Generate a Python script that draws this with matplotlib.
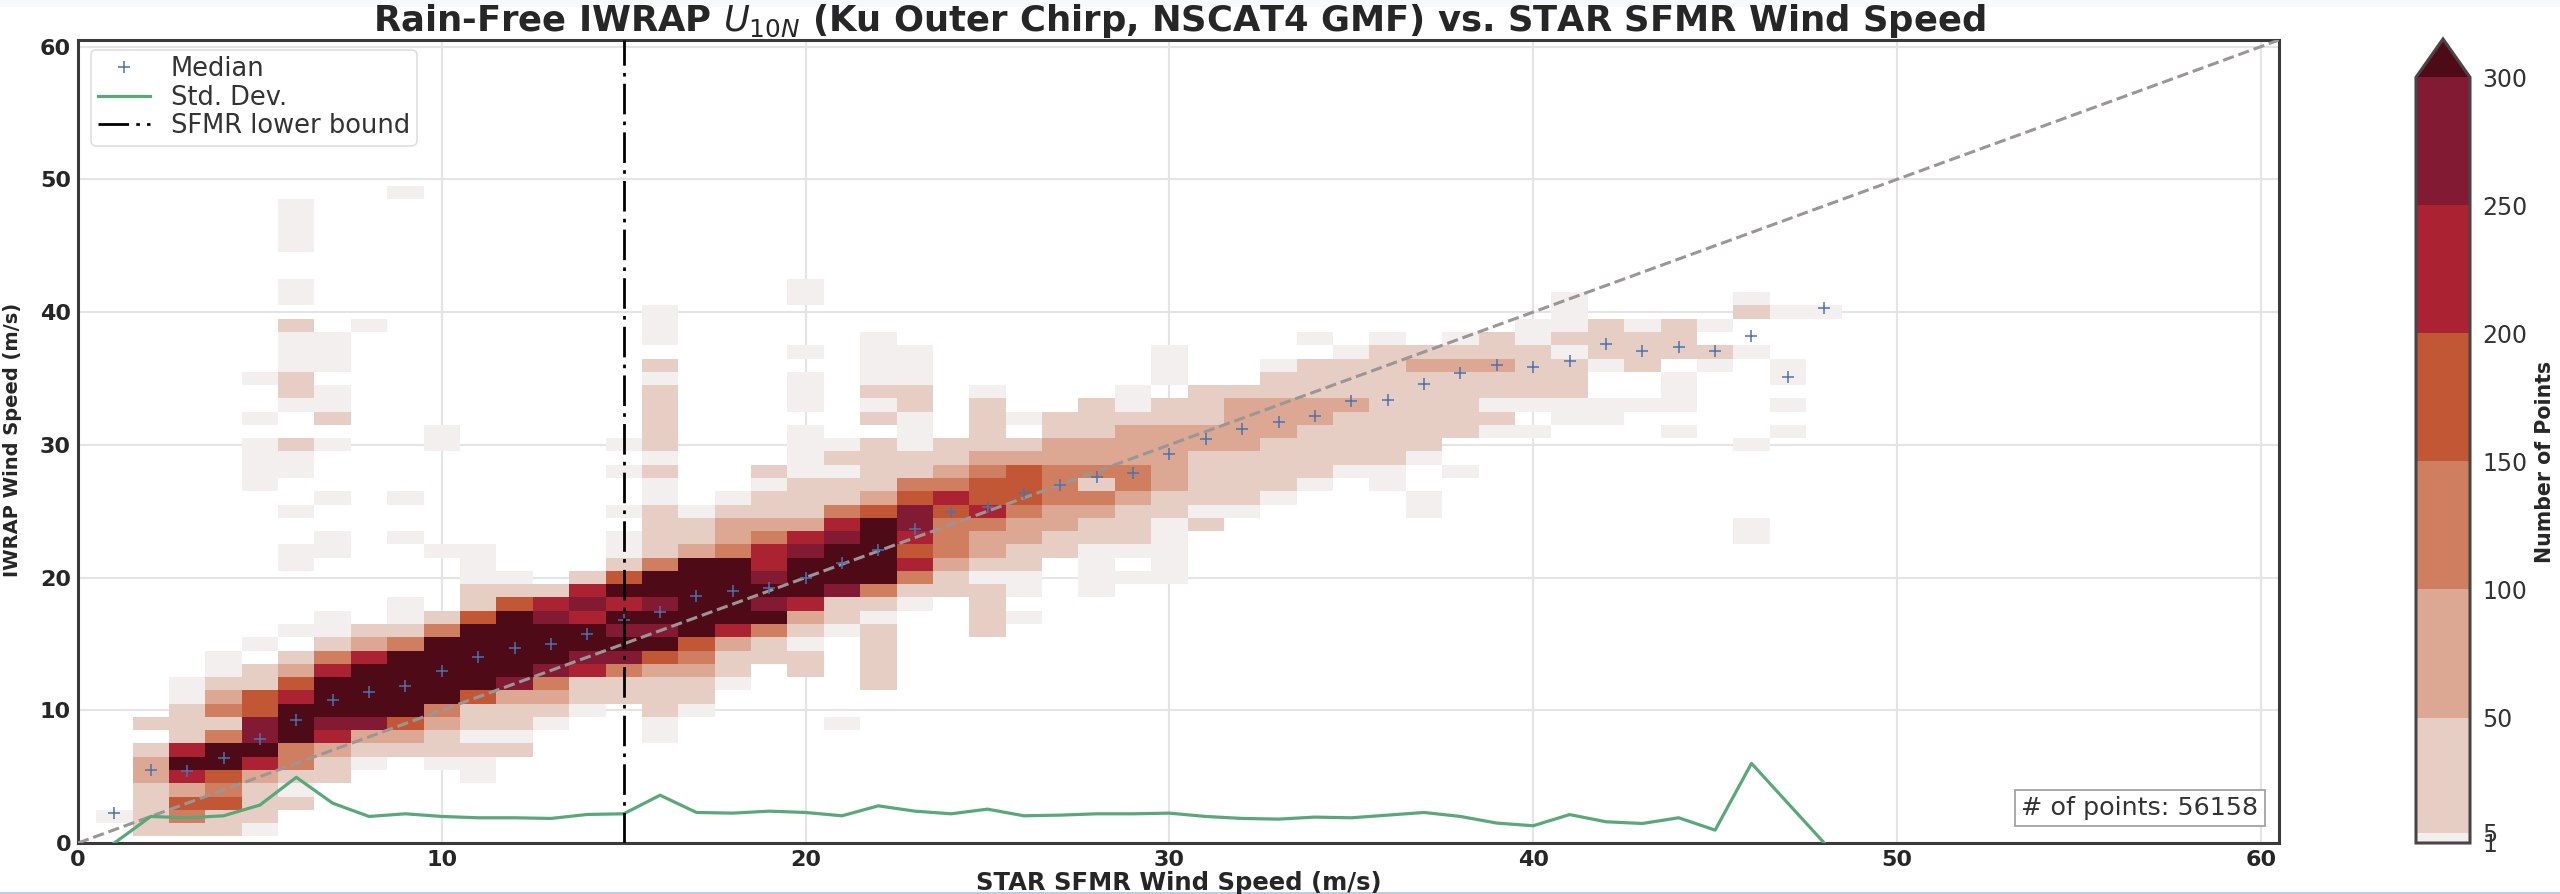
import numpy as np
import matplotlib
matplotlib.use('Agg')
import matplotlib.pyplot as plt
from matplotlib.colors import BoundaryNorm, ListedColormap
from matplotlib.patches import Rectangle

# bin counts were read from the picture as colour classes, so each class stands for a typical count
level_counts = {'a': 3, 'b': 25, 'c': 75, 'd': 125, 'e': 175, 'f': 225, 'g': 275, 'h': 350}

# SFMR bin -> list of (first IWRAP bin, classes going upward)
columns = {
    1: [(2, 'a')],
    2: [(1, 'bbbbccb'), (9, 'b')],
    3: [(1, 'bdecfhfbbbaa')],
    4: [(1, 'bbedehhdbdcbaa')],
    5: [(1, 'abbbcfhggeebb'), (15, 'a'), (27, 'aaaa'), (32, 'a'), (35, 'a')],
    6: [(3, 'babddhhhfecb'), (16, 'a'), (21, 'aa'), (25, 'a'), (28, 'aab'), (33, 'abbaaab'), (41, 'aa'), (45, 'aaaa')],
    7: [(5, 'bbcfghhhfdbaa'), (22, 'aa'), (26, 'a'), (30, 'a'), (32, 'baa'), (36, 'aaa')],
    8: [(6, 'abcghhhhfcb'), (39, 'a')],
    9: [(7, 'bcehhhhhdbaa'), (23, 'a'), (26, 'a'), (49, 'a')],
    10: [(6, 'abbcdhhhhhdb'), (22, 'a'), (30, 'aa')],
    11: [(5, 'aababbehhhhhebbaaa')],
    12: [(7, 'babbcghhhhheba')],
    13: [(9, 'abcdghhhgfb')],
    14: [(10, 'abbfghhfgfb')],
    15: [(11, 'bbdghghfhebaa'), (25, 'a'), (28, 'a'), (30, 'a')],
    16: [(8, 'aabbbcehghghhdbbbbaababbbbbab'), (38, 'aaa')],
    17: [(10, 'abbcdehhhhhhcbba')],
    18: [(12, 'abbcfhhhhhdccba')],
    19: [(14, 'bbdhghgffdcbbab')],
    20: [(13, 'bbabcfhhhgfcbbbaaaa'), (33, 'aaa'), (37, 'a'), (41, 'aa')],
    21: [(9, 'a'), (16, 'abbghhhgfdbbaba')],
    22: [(12, 'bbbbbabdhhhhhecbbbb'), (32, 'babaaaa')],
    23: [(18, 'abdfefggedbbaaabbaaa')],
    24: [(19, 'bbcdddefdcbb')],
    25: [(16, 'bbbbabccdfeedcbbbba')],
    26: [(17, 'a'), (19, 'aabbccdeeecb'), (32, 'a')],
    27: [(22, 'bbccdddccbb')],
    28: [(19, 'aaaabbcdbdccbbb')],
    29: [(20, 'a'), (22, 'abbbcddcccbaa')],
    30: [(20, 'aaaaabbcccccbb'), (35, 'aaa')],
    31: [(24, 'babbbbccbbb')],
    32: [(25, 'abbbbccccb')],
    33: [(26, 'abbbbcccbba')],
    34: [(27, 'abbbbccbbb'), (38, 'a')],
    35: [(28, 'abbbbcbbba')],
    36: [(27, 'aabbbbbbbbba')],
    37: [(25, 'aa'), (29, 'abbbbbbcb')],
    38: [(28, 'a'), (31, 'bbbbbcba')],
    39: [(31, 'ababbcbb')],
    40: [(31, 'a'), (33, 'abbbbaa')],
    41: [(32, 'aabbbabaaa')],
    42: [(32, 'aa'), (36, 'abbb')],
    43: [(33, 'a'), (36, 'bbba')],
    44: [(31, 'a'), (33, 'aaa'), (37, 'bbb')],
    45: [(36, 'ab'), (39, 'a')],
    46: [(23, 'aa'), (30, 'a'), (37, 'a'), (40, 'ba')],
    47: [(31, 'a'), (33, 'a'), (35, 'aa'), (40, 'a')],
    48: [(40, 'a')],
}

sfmr_bins = np.arange(1, 49)
median_iwrap = [2.24, 5.5, 5.45, 6.43, 7.8, 9.27, 10.78, 11.4, 11.83, 12.94,
                14.03, 14.66, 14.98, 15.74, 16.77, 17.42, 18.62, 18.95, 19.23, 20.0,
                21.06, 22.06, 23.64, 24.95, 25.3, 26.4, 26.96, 27.6, 27.9, 29.3,
                30.47, 31.2, 31.7, 32.2, 33.3, 33.36, 34.6, 35.4, 36.0, 35.84,
                36.3, 37.6, 37.05, 37.37, 37.1, 38.2, 35.1, 40.3]
std_iwrap = [0.0, 2.0, 1.9, 2.05, 2.86, 4.95, 3.0, 2.0, 2.2, 2.0,
             1.9, 1.9, 1.85, 2.15, 2.2, 3.6, 2.3, 2.25, 2.4, 2.3,
             2.05, 2.8, 2.4, 2.2, 2.55, 2.05, 2.1, 2.2, 2.2, 2.25,
             2.0, 1.85, 1.8, 1.95, 1.9, 2.1, 2.3, 2.0, 1.5, 1.3,
             2.14, 1.6, 1.47, 1.9, 0.97, 6.0, 3.0, 0.0]

n_points = 56158
sfmr_lower_bound = 15
count_levels = [1, 5, 50, 100, 150, 200, 250, 300]
level_colors = ['#f3efee', '#e6cec4', '#dca894', '#cf7f5f', '#c25735', '#ab2233', '#831a33']
over_color = '#4f0a17'
axis_ticks = [0, 10, 20, 30, 40, 50, 60]

counts = np.zeros((61, 61))
for x_bin, segments in columns.items():
    for first, classes in segments:
        for i, c in enumerate(classes):
            counts[first + i, x_bin] = level_counts[c]
counts = np.ma.masked_equal(counts, 0)

text_color = '#262626'
fig = plt.figure(figsize=(25.6, 8.94), dpi=100)
ax = fig.add_axes([78 / 2560, 1 - 843 / 894, 2201 / 2560, 803 / 894])

# the screenshot has a pale strip along its top edge and a thin blue one along the bottom
fig.add_artist(Rectangle((0, 1 - 7 / 894), 1, 7 / 894, transform=fig.transFigure, fc='#f6f8fc', ec='none', zorder=-1))
fig.add_artist(Rectangle((0, 0), 1, 2 / 894, transform=fig.transFigure, fc='#b9cfe8', ec='none', zorder=-1))

cmap = ListedColormap(level_colors)
cmap.set_over(over_color)
norm = BoundaryNorm(count_levels, cmap.N)
edges = np.arange(-0.5, 61)
mesh = ax.pcolormesh(edges, edges, counts, cmap=cmap, norm=norm, linewidth=0, rasterized=True)

ax.plot([0, 60.5], [0, 60.5], color='#9b9696', ls='--', lw=2.2, zorder=3)
ax.plot(sfmr_bins, median_iwrap, '+', color='#4c72b0', ms=8, mew=1.1, label='Median', zorder=4)
ax.plot(sfmr_bins, std_iwrap, color='#5aa87a', lw=2.3, label='Std. Dev.', zorder=4)
ax.axvline(sfmr_lower_bound, color='black', ls=(0, (11, 2.6, 1.3, 2.6)), lw=2,
           label='SFMR lower bound', zorder=4)

ax.set_xlim(0, 60.5)
ax.set_ylim(0, 60.5)
ax.set_xticks(axis_ticks)
ax.set_yticks(axis_ticks)
ax.set_axisbelow(True)
ax.grid(True, color='#e4e4e4', lw=1.5)
ax.tick_params(length=0, labelsize=16, labelcolor=text_color, pad=5)
for lab in ax.get_xticklabels() + ax.get_yticklabels():
    lab.set_fontweight('bold')
for spine in ax.spines.values():
    spine.set_color('#3a3a3a')
    spine.set_linewidth(2.2)

fig.text(1179 / 2560, 1 - 31 / 894,
         r'Rain-Free IWRAP $U_{10N}$ (Ku Outer Chirp, NSCAT4 GMF) vs. STAR SFMR Wind Speed',
         ha='center', va='baseline', fontsize=25.5, fontweight='bold', color=text_color)
fig.text(1179 / 2560, 1 - 883 / 894, 'STAR SFMR Wind Speed (m/s)', ha='center', va='center',
         fontsize=17.5, fontweight='bold', color=text_color)
fig.text(13 / 2560, 1 - 440 / 894, 'IWRAP Wind Speed (m/s)', rotation=90, ha='center', va='center',
         fontsize=14, fontweight='bold', color=text_color)

leg = ax.legend(loc='upper left', bbox_to_anchor=(0.006, 0.988), borderaxespad=0, fontsize=18.5,
                frameon=True, framealpha=0.9, edgecolor='#dcdcdc', labelcolor='#333333',
                labelspacing=0.1, borderpad=0.25, handlelength=2.05, handletextpad=0.8)
leg.get_frame().set_linewidth(1.2)

ax.text(0.9907, 0.0286, f'# of points: {n_points}', transform=ax.transAxes, ha='right', va='bottom',
        fontsize=18.3, color='#333333', zorder=6,
        bbox=dict(boxstyle='square,pad=0.25', fc='white', ec='#9a9a9a', lw=1.2))

cax = fig.add_axes([2416 / 2560, 1 - 843 / 894, 54 / 2560, 804 / 894])
cbar = fig.colorbar(mesh, cax=cax, extend='max', spacing='proportional', ticks=count_levels)
cbar.ax.tick_params(length=0, labelsize=17, labelcolor='#333333', pad=9)
cbar.outline.set_edgecolor('#4a4444')
cbar.outline.set_linewidth(2.2)
fig.text(2545 / 2560, 1 - 462 / 894, 'Number of Points', rotation=90, ha='center', va='center',
         fontsize=14.8, fontweight='bold', color=text_color)

fig.savefig('out.png', dpi=100, facecolor='white')
